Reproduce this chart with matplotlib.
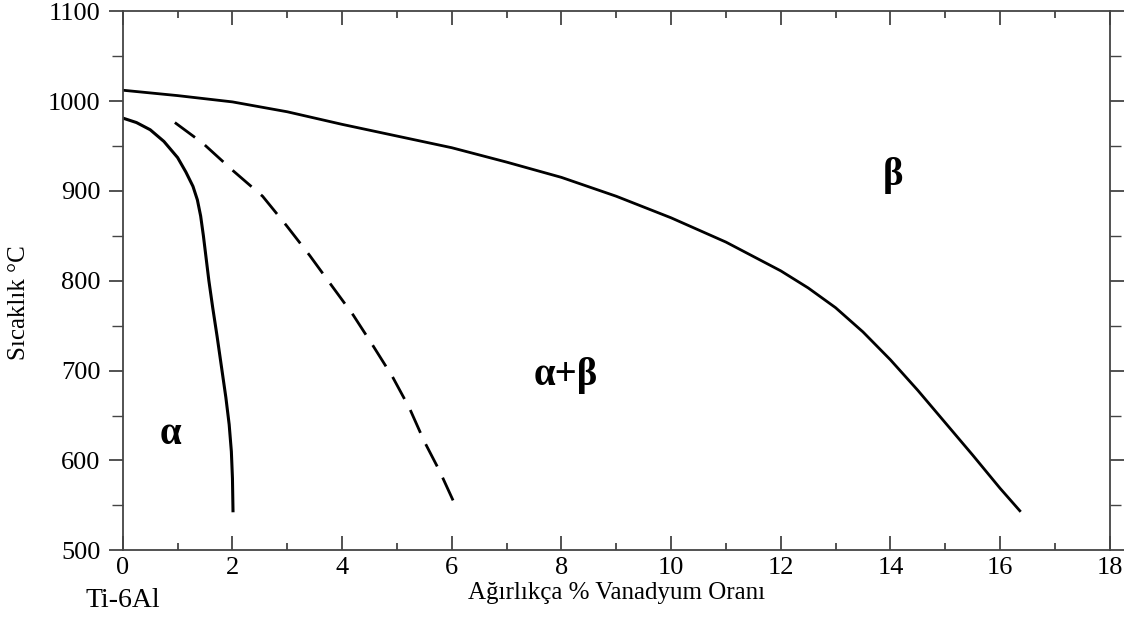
import matplotlib.pyplot as plt
import matplotlib.transforms as mtransforms
from matplotlib.ticker import MultipleLocator

plt.rcParams['font.family'] = ['Liberation Serif', 'DejaVu Serif']

# beta transus (upper solid line)
beta_x = [0, 1, 2, 3, 4, 5, 6, 7, 8, 9, 10, 11, 12, 12.5, 13, 13.5, 14, 14.5, 15, 15.5, 16, 16.36]
beta_t = [1012, 1006, 999, 988, 974, 961, 948, 932, 915, 894, 870, 843, 811, 792, 770, 743, 712, 678, 642, 606, 569, 544]

# alpha transus (lower solid line)
alpha_x = [0, 0.25, 0.5, 0.75, 1.0, 1.15, 1.28, 1.36, 1.42, 1.47, 1.52, 1.57, 1.64, 1.72, 1.80, 1.88, 1.94, 1.98, 2.0, 2.01]
alpha_t = [981, 976, 968, 955, 937, 921, 905, 890, 872, 850, 825, 800, 770, 738, 704, 670, 640, 610, 580, 544]

# dashed line
dash_x = [0.95, 1.46, 2.0, 2.55, 2.99, 3.41, 3.78, 4.2, 4.56, 4.92, 5.23, 5.5, 5.78, 6.11]
dash_t = [976, 953, 923, 894, 861, 828, 797, 762, 728, 693, 658, 621, 588, 544]

fig = plt.figure(figsize=(11.37, 6.19), dpi=100)
ax = fig.add_axes([0.108, 0.111, 0.868, 0.871])

ax.plot(beta_x, beta_t, color='black', lw=2.0, solid_joinstyle='round')
ax.plot(alpha_x, alpha_t, color='black', lw=2.2, solid_joinstyle='round')
ax.plot(dash_x, dash_t, color='black', lw=2.0, dashes=(9, 4.5))

ax.set_xlim(0, 18)
ax.set_ylim(500, 1100)
ax.xaxis.set_major_locator(MultipleLocator(2))
ax.xaxis.set_minor_locator(MultipleLocator(1))
ax.yaxis.set_major_locator(MultipleLocator(100))
ax.yaxis.set_minor_locator(MultipleLocator(50))

for s in ax.spines.values():
    s.set_color('#444444')
    s.set_linewidth(1.3)

ax.tick_params(axis='x', which='both', direction='in', top=True, bottom=True,
               colors='#444444', labelcolor='black', labelsize=19, pad=5)
ax.tick_params(axis='x', which='major', length=10, width=1.3)
ax.tick_params(axis='x', which='minor', length=5, width=1.3)
ax.tick_params(axis='y', which='both', direction='out', left=True, right=True,
               colors='#444444', labelcolor='black', labelsize=19, pad=6)
ax.tick_params(axis='y', which='major', length=10, width=1.3)
ax.tick_params(axis='y', which='minor', length=8, width=1.0)

ax.set_xlabel('Ağırlıkça % Vanadyum Oranı', fontsize=18, labelpad=2)
ax.set_ylabel('Sıcaklık °C', fontsize=18, labelpad=12)
ax.yaxis.set_label_coords(-0.094, 0.46)

trans = mtransforms.blended_transform_factory(ax.transData, ax.transAxes)
ax.text(0, -0.094, 'Ti-6Al', transform=trans, ha='center', va='center', fontsize=20)

ax.text(0.86, 629, 'α', fontsize=28, fontweight='bold', ha='center', va='center')
ax.text(8.08, 695, 'α+β', fontsize=28, fontweight='bold', ha='center', va='center')
ax.text(14.04, 917, 'β', fontsize=28, fontweight='bold', ha='center', va='center')

fig.savefig('out.png', dpi=100)
